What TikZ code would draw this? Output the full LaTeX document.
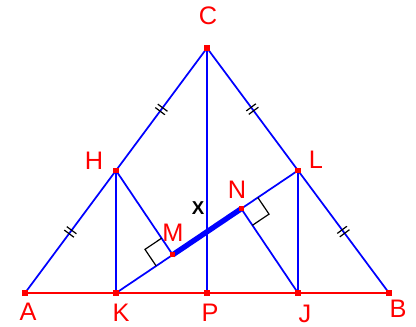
\documentclass[tikz,border=0pt]{standalone}
\usepackage{fontspec}
\setmainfont{Liberation Sans}
\usetikzlibrary{calc,decorations.markings}
\tikzset{
  blueline/.style={blue, line width=1.3pt},
  redline/.style={red, line width=1.4pt},
  thickseg/.style={blue, line width=4pt},
  rightmark/.style={black, line width=0.9pt},
  dbltick/.style={postaction={decorate},decoration={markings,
     mark=at position 0.5 with {\draw[black,line width=0.9pt] (-1.6pt,-4.5pt)--(-1.6pt,4.5pt) (1.6pt,-4.5pt)--(1.6pt,4.5pt);}}},
  ptlabel/.style={red, font=\fontsize{19}{21}\selectfont, inner sep=0pt},
  dot/.style={red, fill=red, minimum size=4pt, inner sep=0pt, draw=none, rectangle}
}
\begin{document}
\begin{tikzpicture}[x=0.75pt,y=-0.75pt]
\useasboundingbox (0,0) rectangle (416,327);
\coordinate (A) at (25,293);
\coordinate (B) at (389,293);
\coordinate (C) at (207,48);
\coordinate (P) at (207,293);
\coordinate (H) at ($(A)!0.5!(C)$);
\coordinate (L) at ($(B)!0.5!(C)$);
\coordinate (K) at (H |- A);
\coordinate (J) at (L |- A);
\coordinate (M) at ($(K)!(H)!(L)$);
\coordinate (N) at ($(K)!(J)!(L)$);
% right angle mark helpers
\coordinate (M1) at ($(M)!15pt!(K)$);
\coordinate (M2) at ($(M)!15pt!(H)$);
\coordinate (MQ) at ($(M1)+(M2)-(M)$);
\coordinate (N1) at ($(N)!15pt!(L)$);
\coordinate (N2) at ($(N)!15pt!(J)$);
\coordinate (NQ) at ($(N1)+(N2)-(N)$);
% lines
\draw[redline] (A) -- (B);
\draw[blueline,dbltick] (A) -- (H);
\draw[blueline,dbltick] (H) -- (C);
\draw[blueline,dbltick] (C) -- (L);
\draw[blueline,dbltick] (L) -- (B);
\draw[blueline] (C) -- (P);
\draw[blueline] (H) -- (K);
\draw[blueline] (L) -- (J);
\draw[blueline] (K) -- (L);
\draw[blueline] (H) -- (M);
\draw[blueline] (J) -- (N);
\draw[thickseg] (M) -- (N);
\draw[rightmark] (M1) -- (MQ) -- (M2);
\draw[rightmark] (N1) -- (NQ) -- (N2);
% points
\foreach \p in {A,B,C,P,H,L,K,J,M,N} \node[dot] (d\p) at (\p) {};
% labels
\node[ptlabel] (lC) at (208,16) {C};
\node[ptlabel] (lH) at (94,161) {H};
\node[ptlabel] (lL) at (316,160) {L};
\node[ptlabel] (lA) at (28,312) {A};
\node[ptlabel] (lK) at (121,313) {K};
\node[ptlabel] (lP) at (210,313) {P};
\node[ptlabel] (lJ) at (305,314) {J};
\node[ptlabel] (lB) at (398,309) {B};
\node[ptlabel] (lM) at (173,233) {M};
\node[ptlabel] (lN) at (237,190) {N};
\node[black, font=\fontsize{14}{16}\selectfont\bfseries, inner sep=0pt] (lX) at (198,208) {X};
\end{tikzpicture}
\end{document}
